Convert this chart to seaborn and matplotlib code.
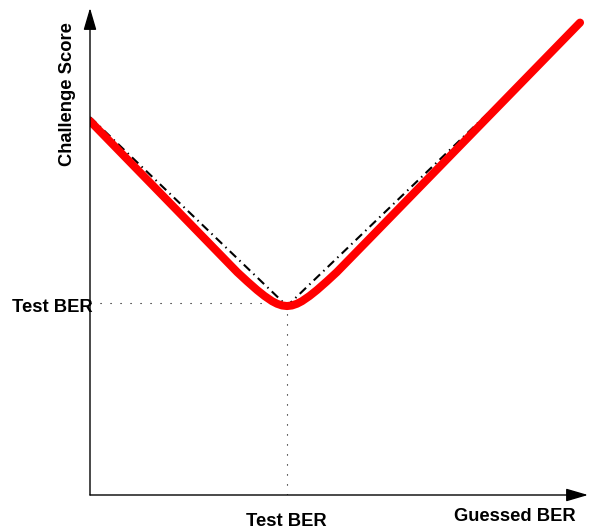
import matplotlib
matplotlib.use("Agg")
import matplotlib.pyplot as plt
import seaborn as sns

# Challenge score as a function of the guessed BER
guessed_ber = [0.0, 0.10, 0.18, 0.26, 0.2956, 0.3156, 0.3356, 0.3506, 0.3656,
               0.3756, 0.3856, 0.3956, 0.4056, 0.4156, 0.4256, 0.4406, 0.4556,
               0.4756, 0.4956, 0.56, 0.80, 0.984]
challenge_score = [0.768, 0.663, 0.579, 0.495, 0.4576, 0.4387, 0.4207, 0.4085,
                   0.398, 0.3927, 0.3892, 0.388, 0.3892, 0.3927, 0.398, 0.4085,
                   0.4207, 0.4387, 0.4576, 0.525, 0.777, 0.970]

# Piecewise-linear reference (|guess - test| penalty)
bound_x = [0.0, 0.3956, 0.984]
bound_y = [0.776, 0.388, 0.965]

test_ber_x = 0.3956
test_ber_y = 0.394

sns.set_theme(style="white")
plt.rcParams["font.family"] = ["Liberation Sans", "DejaVu Sans"]

fig = plt.figure(figsize=(5.90, 5.29), dpi=100)
ax = fig.add_axes([90 / 590, 34 / 529, 498 / 590, 487 / 529])
ax.set_xlim(0, 1)
ax.set_ylim(0, 1)
for s in ax.spines.values():
    s.set_visible(False)
ax.set_xticks([])
ax.set_yticks([])

# dotted guides to the test BER
ax.plot([0, test_ber_x], [test_ber_y, test_ber_y], color="black", lw=0.8,
        dashes=(1, 8), zorder=1)
ax.plot([test_ber_x, test_ber_x], [0, test_ber_y], color="black", lw=0.8,
        dashes=(1, 8), zorder=1)

sns.lineplot(x=bound_x, y=bound_y, ax=ax, color="black", lw=1.5,
             dashes=False, zorder=2)
ax.lines[-1].set_linestyle((0, (4.2, 2.2, 0.7, 2.2)))

sns.lineplot(x=guessed_ber, y=challenge_score, ax=ax, color="#ff0000", lw=5.8,
             zorder=3)
ax.lines[-1].set_solid_capstyle("round")
ax.lines[-1].set_solid_joinstyle("round")

# axes drawn as arrows
arrow = dict(arrowstyle="-|>,head_length=0.75,head_width=0.22", color="black",
             lw=1.0, shrinkA=0, shrinkB=0, mutation_scale=18)
ax.annotate("", xy=(1, 0), xytext=(0, 0), xycoords="axes fraction",
            arrowprops=arrow, annotation_clip=False)
ax.annotate("", xy=(0, 1), xytext=(0, 0), xycoords="axes fraction",
            arrowprops=arrow, annotation_clip=False)

fs = 13.2
txt = dict(fontsize=fs, fontweight="bold", color="black")
fig.text(67 / 590, 1 - 94 / 529, "Challenge Score", rotation=90, ha="center",
         va="center", **txt)
fig.text(93 / 590, 1 - 312 / 529, "Test BER", ha="right", va="baseline", **txt)
fig.text(286 / 590, 1 - 526 / 529, "Test BER", ha="center", va="baseline", **txt)
fig.text(515 / 590, 1 - 521 / 529, "Guessed BER", ha="center", va="baseline",
         **txt)

fig.savefig("out.png", dpi=100)
